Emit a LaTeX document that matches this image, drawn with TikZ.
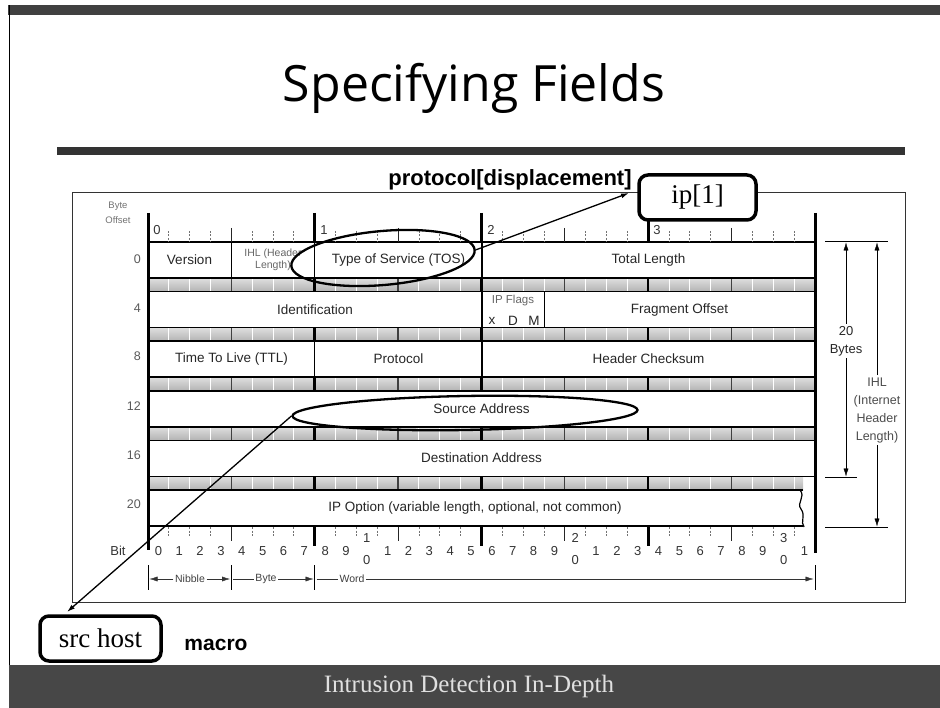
\documentclass[tikz,border=0pt]{standalone}
\usepackage{fontspec}
\setmainfont{Liberation Sans}
\newfontfamily\ttlfont{Open Sans}
\newfontfamily\srffont{Liberation Serif}
\usetikzlibrary{shapes.geometric,arrows.meta,calc}
\newcommand\fsz[2]{\fontsize{#1}{#2}\selectfont}
\begin{document}
\begin{tikzpicture}[x=1pt,y=-1pt,
  fld/.style={font=\fsz{13.5}{15}, text=black!85, inner sep=0pt},
  smallgray/.style={font=\fsz{10.5}{12.5}, text=black!60, inner sep=0pt, align=center},
  rulnum/.style={font=\fsz{13}{14}, text=black!80, inner sep=0pt},
  offs/.style={font=\fsz{12.5}{14}, text=black!65, inner sep=0pt, anchor=east},
  arr/.style={-{Latex[length=8pt,width=5pt]}},
  bigv/.style={line width=3pt, line cap=butt},
  rowline/.style={line width=1.5pt},
  hand/.style={draw, ellipse, line width=2.3pt, inner sep=0pt},
  callout/.style={draw, line width=3.5pt, rounded corners=9pt, fill=white, font=\srffont\fsz{27}{30}},
]
\useasboundingbox (0,0) rectangle (940,708);
% slide decoration
\fill[black!75] (8,5) rectangle (940,15);
\draw[line width=1pt] (9,5) -- (9,665);
\fill[black!72] (9,665) rectangle (940,708);
\node[font=\srffont\fsz{25}{28}, text=black!12] (footer) at (469,686) {Intrusion Detection In-Depth};
\node[font=\ttlfont\fsz{50}{55}, anchor=base] (title) at (474,102) {Specifying Fields};
\fill[black!80] (57,147) rectangle (905,155);
% frame
\draw[black!80, line width=1pt] (72,193) rectangle (905,602);
\node[font=\bfseries\fsz{22}{24}, anchor=base] (proto) at (510,186) {protocol[displacement]};
% bands
\foreach \i in {0,...,4}{
  \pgfmathsetmacro\ya{242+49.6*\i+36}
  \pgfmathsetmacro\yb{242+49.6*(\i+1)}
  \pgfmathsetmacro\xe{\i==4 ? 803 : 815}
  \shade[top color=gray!25, bottom color=gray!60] (148,\ya) rectangle (\xe,\yb);
  \foreach \k in {1,...,31}{
    \pgfmathsetmacro\xx{148+20.84*\k}
    \pgfmathtruncatemacro\mb{mod(\k,8)}
    \pgfmathtruncatemacro\mn{mod(\k,4)}
    \ifnum\mb=0 \draw[line width=2.5pt] (\xx,\ya) -- (\xx,\yb);
    \else\ifnum\mn=0 \draw[line width=1.2pt,black!75] (\xx,\ya) -- (\xx,\yb);
    \else \draw[white,line width=0.9pt] (\xx,\ya) -- (\xx,\yb); \fi\fi
  }
}
% rows
\foreach \i in {0,...,5}{
  \pgfmathsetmacro\ta{242+49.6*\i}
  \pgfmathsetmacro\tb{\ta+36}
  \pgfmathsetmacro\xe{\i==5 ? 803 : 815}
  \draw[rowline] (148,\ta) -- (\xe,\ta);
  \draw[rowline] (148,\tb) -- (\xe,\tb);
}
% top and bottom rulers
\foreach \k in {1,...,31}{
  \pgfmathsetmacro\xx{148+20.84*\k}
  \pgfmathtruncatemacro\mb{mod(\k,8)}
  \pgfmathtruncatemacro\mn{mod(\k,4)}
  \ifnum\mb=0
    \draw[bigv] (\xx,213) -- (\xx,242);
    \draw[bigv] (\xx,527) -- (\xx,546);
  \else\ifnum\mn=0
    \draw[line width=1.1pt,black!85] (\xx,228) -- (\xx,242);
    \draw[line width=1.1pt,black!85] (\xx,527) -- (\xx,541);
  \else
    \draw[line width=0.8pt,black!55,dash pattern=on 2pt off 1.5pt] (\xx,231) -- (\xx,242);
    \draw[line width=0.8pt,black!55,dash pattern=on 2pt off 1.5pt] (\xx,527) -- (\xx,537);
  \fi\fi
}
\draw[bigv] (148,213) -- (148,550);
\draw[bigv] (815,213) -- (815,553);
% wavy end of option row
\draw[line width=1.2pt, fill=white] (800,490) .. controls (806,497) and (796,503) .. (801,509) .. controls (806,516) and (800,522) .. (804,527);
% field separators
\draw[line width=1pt] (231.4,242) -- (231.4,278);
\draw[line width=1pt] (314.7,242) -- (314.7,278);
\draw[line width=2pt] (481.5,242) -- (481.5,278);
\draw[line width=2pt] (481.5,291.6) -- (481.5,327.6);
\draw[line width=1pt] (544,291.6) -- (544,327.6);
\draw[line width=1pt] (314.7,341.2) -- (314.7,377.2);
\draw[line width=2pt] (481.5,341.2) -- (481.5,377.2);
% ruler numbers
\node[rulnum] (t0) at (157,230) {0};
\node[rulnum] (t1) at (324,230) {1};
\node[rulnum] (t2) at (491,230) {2};
\node[rulnum] (t3) at (657,230) {3};
\node[font=\fsz{9.5}{15}, text=black!55, align=center, inner sep=0pt] (byteoff) at (118,213) {Byte\\Offset};
\node[offs] (o0) at (141,259) {0};
\node[offs] (o4) at (141,308) {4};
\node[offs] (o8) at (141,356) {8};
\node[offs] (o12) at (141,406) {12};
\node[offs] (o16) at (141,455) {16};
\node[offs] (o20) at (141,504) {20};
% fields
\node[fld] (ver) at (189.5,260) {Version};
\node[smallgray] (ihl) at (273,260) {IHL (Header\\Length)};
\node[fld] (tosl) at (398.5,260) {Type of Service (TOS)};
\node[fld] (tl) at (648.5,260) {Total Length};
\node[fld] (ident) at (315,310) {Identification};
\node[smallgray, font=\fsz{11.5}{13}] (flg) at (513,301) {IP Flags};
\node[fld] (fx) at (492,321) {x};
\node[fld] (fd) at (513,321) {D};
\node[fld] (fm) at (534,321) {M};
\node[fld] (fo) at (679.5,310) {Fragment Offset};
\node[fld] (ttl) at (231.5,359) {Time To Live (TTL)};
\node[fld] (prot) at (398.5,359) {Protocol};
\node[fld] (hc) at (648.5,359) {Header Checksum};
\node[fld] (sa) at (481.5,409) {Source Address};
\node[fld] (da) at (481.5,458) {Destination Address};
\node[fld] (ipo) at (475,508) {IP Option (variable length, optional, not common)};
% bit numbers
\node[rulnum] (bitl) at (118,551) {Bit};
\foreach \k in {0,...,31}{
  \pgfmathsetmacro\xx{148+20.84*(\k+0.5)}
  \pgfmathtruncatemacro\dd{mod(\k,10)}
  \pgfmathtruncatemacro\tt{\k/10}
  \ifnum\dd=0 \ifnum\k>0
    \node[rulnum] at (\xx,538) {\tt};
    \node[rulnum] at (\xx,560) {0};
  \else
    \node[rulnum] at (\xx,551) {0};
  \fi
  \else
    \node[rulnum] at (\xx,551) {\dd};
  \fi
}
% nibble / byte / word
\foreach \xx in {148,231.4,314.7,815}{ \draw[line width=1pt] (\xx,565) -- (\xx,590); }
\node[font=\fsz{10.5}{12}, text=black!75, inner sep=1.5pt] (nib) at (190,579) {Nibble};
\node[font=\fsz{10.5}{12}, text=black!75, inner sep=1.5pt] (byt) at (266,579) {Byte};
\node[font=\fsz{10.5}{12}, text=black!75, inner sep=1.5pt] (wrd) at (352,579) {Word};
\coordinate (n0) at (149.5,579);
\coordinate (n1) at (230,579);
\coordinate (b0) at (233,579);
\coordinate (b1) at (313.5,579);
\coordinate (w0) at (316.5,579);
\coordinate (w1) at (813.5,579);
\draw[arr, black!80] (nib) -- (n0);
\draw[arr, black!80] (nib) -- (n1);
\draw[black!80] (b0) -- (byt);
\draw[arr, black!80] (byt) -- (b1);
\draw[black!80] (w0) -- (wrd);
\draw[arr, black!80] (wrd) -- (w1);
% right-hand measures
\draw[line width=1pt] (825,242) -- (888,242);
\draw[line width=1pt] (825,477) -- (857,477);
\draw[line width=1pt] (825,527) -- (888,527);
\node[font=\fsz{13}{18}, text=black!85, align=center, inner sep=2pt] (twenty) at (846,341) {20\\Bytes};
\node[font=\fsz{12.5}{18}, text=black!70, align=center, inner sep=2pt] (ihlr) at (877,410) {IHL\\(Internet\\Header\\Length)};
\coordinate (a1t) at (846,242.5);
\coordinate (a1b) at (846,476.5);
\coordinate (a2t) at (877,242.5);
\coordinate (a2b) at (877,526.5);
\draw[arr] (twenty) -- (a1t);
\draw[arr] (twenty) -- (a1b);
\draw[arr] (ihlr) -- (a2t);
\draw[arr] (ihlr) -- (a2b);
% callouts
\node[hand, minimum width=184pt, minimum height=54pt, rotate=5] (tos) at (383,258) {};
\node[hand, minimum width=345pt, minimum height=34pt, rotate=1] (src) at (465,413) {};
\node[callout, minimum width=117pt, minimum height=45pt] (ip) at (697.5,197.5) {ip[1]};
\node[callout, minimum width=121pt, minimum height=45pt] (srch) at (100.5,638.5) {src host};
\node[font=\bfseries\fsz{21}{24}, anchor=base] (macro) at (216,650) {macro};
\coordinate (tipA) at (629,193);
\coordinate (tipB) at (67,612);
\draw[arr, line width=1.3pt] (tos.east) -- (tipA);
\draw[arr, line width=1.3pt] (src.west) -- (tipB);
\end{tikzpicture}
\end{document}
